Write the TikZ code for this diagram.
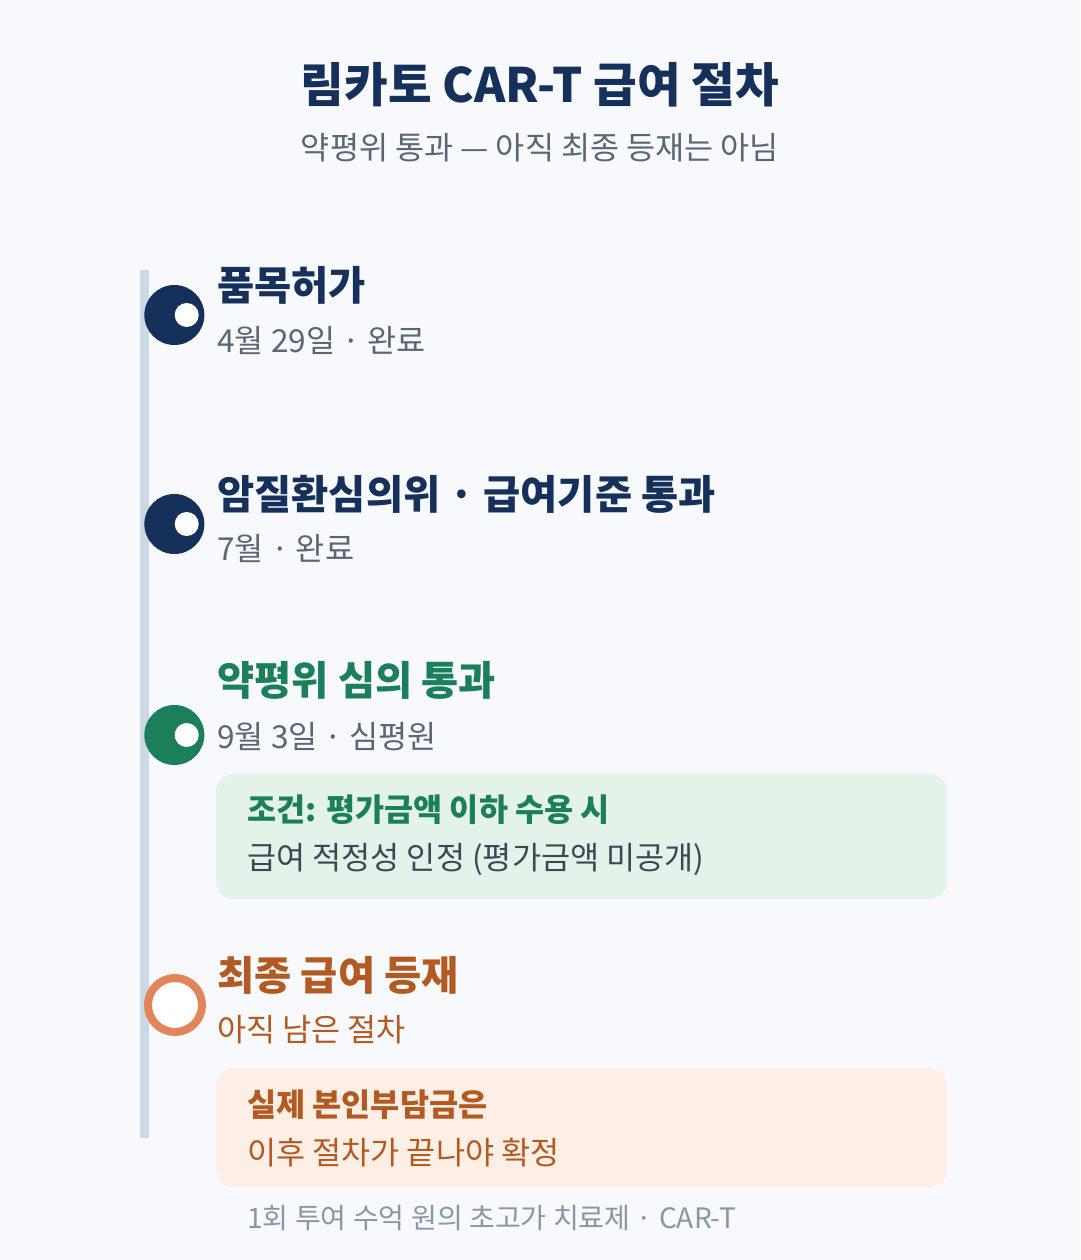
\documentclass[tikz,border=0pt]{standalone}
\usepackage{fontspec}
\setmainfont{Noto Sans CJK KR}
\usetikzlibrary{positioning}
\definecolor{Navy}{RGB}{21,48,90}
\definecolor{Slate}{RGB}{90,102,117}
\definecolor{Rail}{RGB}{203,216,230}
\definecolor{Green}{RGB}{27,127,90}
\definecolor{GreenBg}{RGB}{228,243,234}
\definecolor{Orange}{RGB}{179,90,34}
\definecolor{Ring}{RGB}{224,134,90}
\definecolor{OrangeBg}{RGB}{253,239,230}
\definecolor{Paper}{RGB}{247,249,252}
\definecolor{Foot}{RGB}{138,150,165}
\begin{document}
\begin{tikzpicture}[x=0.02cm, y=-0.02cm,
       every node/.style={inner sep=0pt, anchor=west},
       head/.style={font=\fontsize{23}{27}\selectfont\bfseries, text=#1},
       sub/.style={font=\fontsize{18}{22}\selectfont, text=#1},
       dot/.style={circle, fill=#1, minimum size=60*0.02cm},
       hole/.style={circle, fill=white, minimum size=24*0.02cm},
       card/.style={fill=#1, rounded corners=10pt}]

	%% Canvas
	\fill[Paper] (0,0) rectangle (1080,1260);
	\useasboundingbox (0,0) rectangle (1080,1260);

	%% Title
	\node[anchor=center, font=\fontsize{27}{32}\selectfont\bfseries, text=Navy] (title) at (540,85) {림카토 CAR-T 급여 절차};
	\node[anchor=center, font=\fontsize{18}{22}\selectfont, text=Slate] (subtitle) at (540,148) {약평위 통과 — 아직 최종 등재는 아님};

	%% Rail
	\draw[Rail, line width=9*0.02cm] (144,270) -- (144,1138);

	%% Steps
	\node[dot=Navy] (s1) at (144,315) {}; \node[hole] at (s1) {};
	\node[dot=Navy] (s2) at (144,524) {}; \node[hole] at (s2) {};
	\node[dot=Green] (s3) at (144,735) {}; \node[hole] at (s3) {};
	\node[circle, fill=white, draw=Ring, line width=8*0.02cm, minimum size=54*0.02cm] (s4) at (144,1005) {};

	\node[head=Navy] (h1) at (217,285) {품목허가};
	\node[sub=Slate] (d1) at (217,340) {4월 29일 · 완료};
	\node[head=Navy] (h2) at (217,494) {암질환심의위 · 급여기준 통과};
	\node[sub=Slate] (d2) at (217,549) {7월 · 완료};
	\node[head=Green] (h3) at (217,680) {약평위 심의 통과};
	\node[sub=Slate] (d3) at (217,737) {9월 3일 · 심평원};
	\node[head=Orange] (h4) at (217,975) {최종 급여 등재};
	\node[sub=Orange] (d4) at (217,1030) {아직 남은 절차};

	%% Notes
	\fill[card=GreenBg] (216,774) rectangle (947,899);
	\node[font=\fontsize{18}{22}\selectfont\bfseries, text=Green] (n1) at (247,810) {조건: 평가금액 이하 수용 시};
	\node[sub=Slate!70!black] (n1b) at (247,860) {급여 적정성 인정 (평가금액 미공개)};
	\fill[card=OrangeBg] (216,1068) rectangle (947,1187);
	\node[font=\fontsize{18}{22}\selectfont\bfseries, text=Orange] (n2) at (247,1105) {실제 본인부담금은};
	\node[sub=Orange] (n2b) at (247,1153) {이후 절차가 끝나야 확정};

	\node[font=\fontsize{16}{20}\selectfont, text=Foot] (foot) at (247,1218) {1회 투여 수억 원의 초고가 치료제 · CAR-T};
\end{tikzpicture}
\end{document}
